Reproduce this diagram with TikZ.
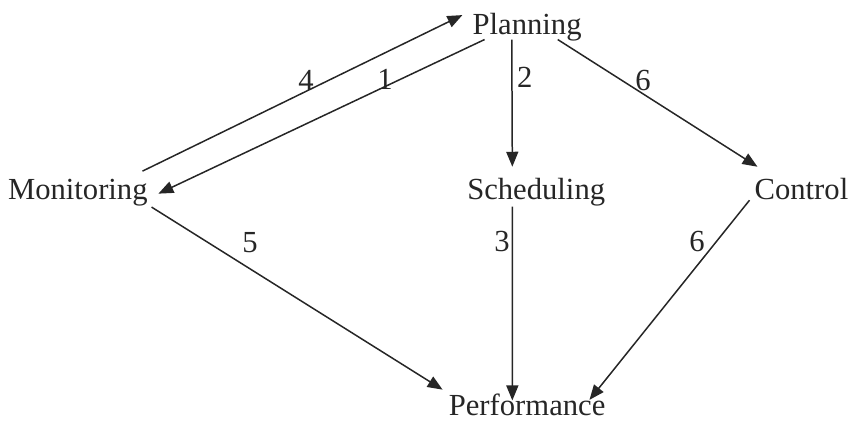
\documentclass[tikz,border=0pt]{standalone}
\usepackage{fontspec}
\setmainfont{Liberation Serif}
\usepackage{tikz}
\usetikzlibrary{arrows.meta}
\definecolor{ink}{HTML}{262626}

\begin{document}
\begin{tikzpicture}[
		every node/.style={font=\fontsize{15.35}{18}\selectfont,text=ink,inner sep=0pt,outer sep=0pt},
		stage/.style={anchor=base},
		link/.style={draw=ink,line width=0.75pt,->},
		>={Triangle[length=7.5pt,width=6pt]}
	]
		\useasboundingbox (0,0) rectangle (15,7.43);

		\node[stage] (plan) at (9.28,6.83) {Planning};
		\node[stage] (mon) at (1.37,3.92) {Monitoring};
		\node[stage] (sched) at (9.44,3.91) {Scheduling};
		\node[stage] (ctrl) at (14.11,3.91) {Control};
		\node[stage] (perf) at (9.28,0.12) {Performance};

		\draw[link] ([shift={(-0.09,0.14)}]mon.north east) -- ([shift={(-0.18,-0.04)}]plan.north west);
		\draw[link] ([shift={(0.21,0.02)}]plan.south west) -- ([shift={(0.19,-0.02)}]mon.east);
		\draw[link] ([shift={(-0.27,0.02)}]plan.south) -- ([shift={(-0.42,0.21)}]sched.north);
		\draw[link] ([shift={(-0.42,0.02)}]plan.south east) -- ([shift={(0.05,0.21)}]ctrl.north west);
		\draw[link] ([shift={(0.07,-0.02)}]mon.south east) -- ([shift={(-0.11,0.07)}]perf.north west);
		\draw[link] ([shift={(-0.42,0)}]sched.south) -- ([shift={(-0.26,-0.12)}]perf.north);
		\draw[link] ([shift={(-0.09,0)}]ctrl.south west) -- ([shift={(-0.28,-0.11)}]perf.north east);

		\node (n4) at (5.39,6.02) {4};
		\node (n1) at (6.78,6.04) {1};
		\node (n2) at (9.24,6.06) {2};
		\node (n6a) at (11.32,6.02) {6};
		\node (n5) at (4.40,3.15) {5};
		\node (n3) at (8.84,3.17) {3};
		\node (n6b) at (12.27,3.17) {6};
	\end{tikzpicture}
\end{document}
